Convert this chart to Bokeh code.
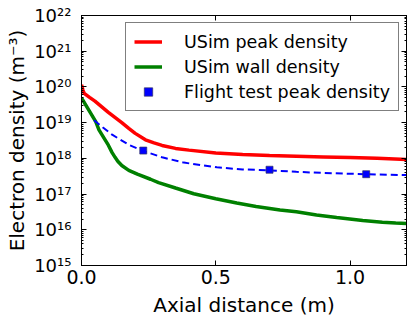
from bokeh.plotting import figure
from bokeh.models import (LogAxis, LinearAxis, FixedTicker, LogTicker, PrintfTickFormatter,
                          CustomJSTickFormatter, Legend, LegendItem, Range1d)
from bokeh.embed import file_html
from bokeh.resources import INLINE

# USim peak density (m^-3) vs axial distance (m)
peak_x = [0, 0.005, 0.01, 0.03, 0.05, 0.1, 0.15, 0.176, 0.2, 0.238, 0.27, 0.3, 0.35,
          0.4, 0.5, 0.6, 0.7, 0.8, 0.9, 1.0, 1.1, 1.21]
peak_y = [1.15e20, 8.3e19, 6.6e19, 5.1e19, 4.0e19, 1.95e19, 1.0e19, 6.9e18, 5.0e18,
          3.3e18, 2.7e18, 2.3e18, 1.9e18, 1.7e18, 1.41e18, 1.29e18, 1.2e18, 1.15e18,
          1.1e18, 1.05e18, 1.0e18, 9.3e17]

# USim wall density
wall_x = [0, 0.053, 0.065, 0.1, 0.114, 0.125, 0.135, 0.15, 0.176, 0.208, 0.257, 0.287,
          0.35, 0.418, 0.5, 0.578, 0.65, 0.739, 0.8, 0.875, 0.95, 1.047, 1.12, 1.17, 1.21]
wall_y = [4.9e19, 1.07e19, 6.3e18, 2.34e18, 1.45e18, 1.07e18, 8.3e17, 6.3e17, 4.6e17,
          3.6e17, 2.6e17, 2.1e17, 1.48e17, 1.02e17, 7.4e16, 5.6e16, 4.5e16, 3.6e16,
          3.2e16, 2.6e16, 2.2e16, 1.82e16, 1.62e16, 1.55e16, 1.51e16]

# Fit through flight test data (dashed)
fit_x = [0.047, 0.08, 0.114, 0.176, 0.231, 0.3, 0.381, 0.504, 0.6, 0.702, 0.8, 0.9,
         1.0, 1.1, 1.21]
fit_y = [1.17e19, 7.3e18, 4.6e18, 2.4e18, 1.6e18, 1.07e18, 7.6e17, 5.6e17, 4.9e17,
         4.6e17, 4.2e17, 3.9e17, 3.7e17, 3.55e17, 3.4e17]

# Flight test peak density
flight_x = [0.23, 0.70, 1.06]
flight_y = [1.65e18, 4.8e17, 3.6e17]

x_ticks = [0, 0.5, 1.0]
FONT = "DejaVu Sans"

p = figure(width=413, height=319, y_axis_type="log",
           x_range=Range1d(0, 1.21), y_range=Range1d(1e15, 1e22),
           output_backend="svg", toolbar_location=None,
           min_border_left=81, min_border_right=7, min_border_top=15, min_border_bottom=49)
p.xgrid.visible = False
p.ygrid.visible = False
p.outline_line_color = "black"
p.outline_line_width = 1
p.background_fill_color = "white"
p.border_fill_color = "white"

sup_code = """
const sup = {'0':'\u2070','1':'\u00b9','2':'\u00b2','3':'\u00b3','4':'\u2074','5':'\u2075',
             '6':'\u2076','7':'\u2077','8':'\u2078','9':'\u2079','-':'\u207b'};
const e = Math.round(Math.log10(tick));
return '10' + String(e).split('').map(c => sup[c]).join('');
"""

def style_axis(ax):
    ax.axis_line_color = "black"
    ax.major_tick_line_color = "black"
    ax.minor_tick_line_color = "black"
    ax.major_tick_in = 5
    ax.major_tick_out = 0
    ax.minor_tick_in = 2
    ax.minor_tick_out = 0
    ax.major_label_text_font = FONT
    ax.axis_label_text_font = FONT
    ax.axis_label_text_font_style = "normal"
    ax.axis_label_text_color = "black"
    ax.major_label_text_color = "black"

xa = p.xaxis[0]
style_axis(xa)
xa.ticker = FixedTicker(ticks=x_ticks, minor_ticks=[])
xa.formatter = PrintfTickFormatter(format="%.1f")
xa.major_label_text_font_size = "19px"
xa.major_label_standoff = 4
xa.axis_label = "Axial distance (m)"
xa.axis_label_text_font_size = "20px"
xa.axis_label_standoff = 6

ya = p.yaxis[0]
style_axis(ya)
ya.ticker = LogTicker(num_minor_ticks=10)
ya.formatter = CustomJSTickFormatter(code=sup_code)
ya.major_label_text_font_size = "18px"
ya.major_label_standoff = 10
ya.axis_label = "Electron density (m\u207b\u00b3)"
ya.axis_label_text_font_size = "20px"
ya.axis_label_standoff = 2

top = LinearAxis(ticker=FixedTicker(ticks=x_ticks, minor_ticks=[]))
style_axis(top)
top.major_label_text_font_size = "1px"
top.major_label_text_color = None
top.major_label_standoff = 0
p.add_layout(top, "above")

right = LogAxis(ticker=LogTicker(num_minor_ticks=10))
style_axis(right)
right.major_label_text_font_size = "1px"
right.major_label_text_color = None
right.major_label_standoff = 0
p.add_layout(right, "right")

r_peak = p.line(peak_x, peak_y, line_color="#ff0000", line_width=3.5)
r_wall = p.line(wall_x, wall_y, line_color="#008000", line_width=3.5)
p.line(fit_x, fit_y, line_color="#0000ff", line_width=2, line_dash="7 4")
r_flight = p.scatter(flight_x, flight_y, marker="square", size=7,
                     fill_color="#0000ff", line_color="#333366", line_width=0.7)

legend = Legend(items=[
    LegendItem(label="USim peak density", renderers=[r_peak]),
    LegendItem(label="USim wall density", renderers=[r_wall]),
    LegendItem(label="Flight test peak density", renderers=[r_flight]),
], location=(44, 154))
legend.margin = 0
legend.padding = 8
legend.spacing = 4
legend.glyph_width = 28
legend.glyph_height = 21
legend.label_height = 21
legend.label_standoff = 22
legend.label_text_font = FONT
legend.label_text_font_size = "17.5px"
legend.label_text_color = "black"
legend.border_line_color = "black"
legend.border_line_width = 1
legend.background_fill_color = "white"
legend.background_fill_alpha = 1
p.add_layout(legend, "center")

open("out.html", "w").write(file_html(p, INLINE))
